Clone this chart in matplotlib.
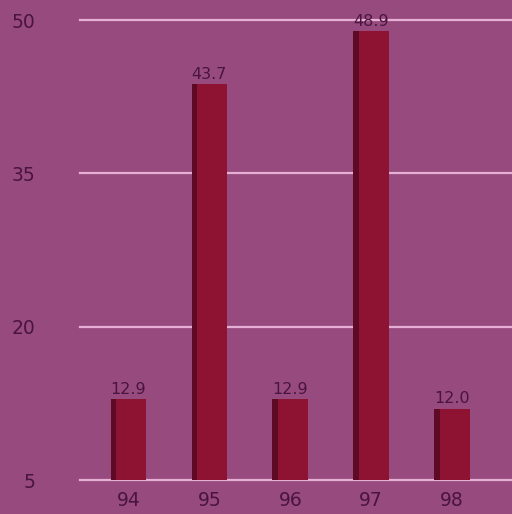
import matplotlib
matplotlib.use("Agg")
import matplotlib.pyplot as plt

years = ["94", "95", "96", "97", "98"]
values = [12.9, 43.7, 12.9, 48.9, 12.0]
value_labels = ["12.9", "43.7", "12.9", "48.9", "12.0"]
y_ticks = [5, 20, 35, 50]

bg = "#974a7d"
bar_color = "#8e1232"
bar_shade = "#5e0a24"
grid_color = "#e6b0d6"
text_color = "#4a1440"

fig = plt.figure(figsize=(5.12, 5.14), dpi=100, facecolor=bg)
ax = fig.add_axes([0.156, 0.066, 0.844, 0.895], facecolor=bg)

x = list(range(len(years)))
width = 0.44
ax.bar(x, values, width=width, bottom=0, color=bar_color, zorder=3)
# darker strip along the left side of each bar
ax.bar([i - width / 2 for i in x], values, width=0.07, align="edge",
       color=bar_shade, zorder=4)

for i, (v, lab) in enumerate(zip(values, value_labels)):
    ax.text(i, v + 0.2, lab, ha="center", va="bottom", fontsize=11.5,
            color=text_color, zorder=5, clip_on=False)

ax.set_xlim(-0.6, 4.74)
ax.set_ylim(5, 50)
ax.set_yticks(y_ticks)
ax.set_yticklabels([str(t) for t in y_ticks])
ax.set_xticks(x)
ax.set_xticklabels(years)

for t in y_ticks:
    ax.axhline(t, color=grid_color, lw=1.6, zorder=1, clip_on=False)

for s in ax.spines.values():
    s.set_visible(False)
ax.tick_params(axis="both", length=0, colors=text_color, labelsize=13.5)
ax.tick_params(axis="y", pad=32)
ax.tick_params(axis="x", pad=8)

fig.savefig("out.png", dpi=100, facecolor=bg)
